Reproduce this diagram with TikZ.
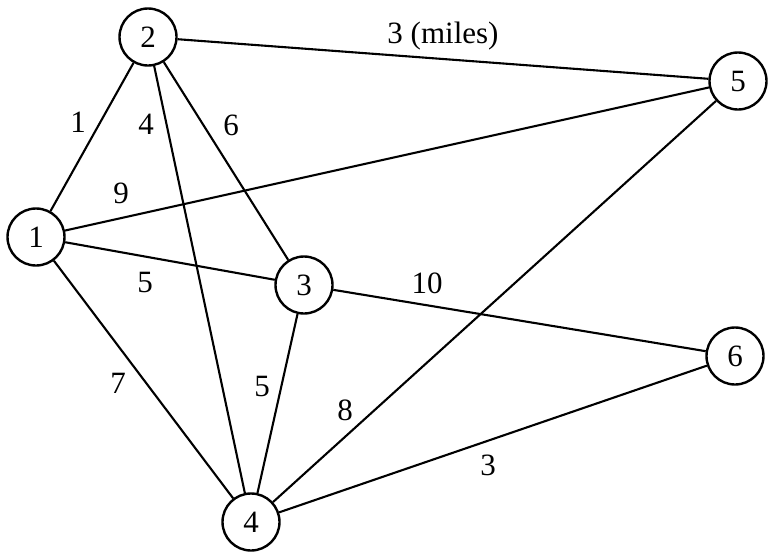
\documentclass[tikz,border=0pt]{standalone}
\usepackage{fontspec}
\setmainfont{Liberation Serif}
\begin{document}
\begin{tikzpicture}[x=1pt,y=-1pt,
  vert/.style={circle,draw,line width=2.4pt,minimum size=57pt,inner sep=0pt,fill=white,font=\fontsize{31}{33}\selectfont},
  edge/.style={line width=2.1pt},
  lab/.style={inner sep=1pt,font=\fontsize{31}{33}\selectfont}]
\useasboundingbox (0,0) rectangle (768,552);
\node[vert] (n2) at (148,37) {2};
\node[vert] (n5) at (738,81) {5};
\node[vert] (n1) at (36,237) {1};
\node[vert] (n3) at (304,285) {3};
\node[vert] (n6) at (735,356) {6};
\node[vert] (n4) at (251,522) {4};
\draw[edge] (n1) -- (n2);
\draw[edge] (n1) -- (n5);
\draw[edge] (n1) -- (n3);
\draw[edge] (n1) -- (n4);
\draw[edge] (n2) -- (n5);
\draw[edge] (n2) -- (n4);
\draw[edge] (n2) -- (n3);
\draw[edge] (n3) -- (n6);
\draw[edge] (n3) -- (n4);
\draw[edge] (n4) -- (n5);
\draw[edge] (n4) -- (n6);
\node[lab] (l25) at (443,36) {3 (miles)};
\node[lab] (l12) at (78,122) {1};
\node[lab] (l24) at (146,124) {4};
\node[lab] (l23) at (231,125) {6};
\node[lab] (l15) at (121,193) {9};
\node[lab] (l13) at (145,282) {5};
\node[lab] (l36) at (427,283) {10};
\node[lab] (l14) at (118,383) {7};
\node[lab] (l34) at (262,386) {5};
\node[lab] (l45) at (345,410) {8};
\node[lab] (l46) at (488,465) {3};
\end{tikzpicture}
\end{document}
